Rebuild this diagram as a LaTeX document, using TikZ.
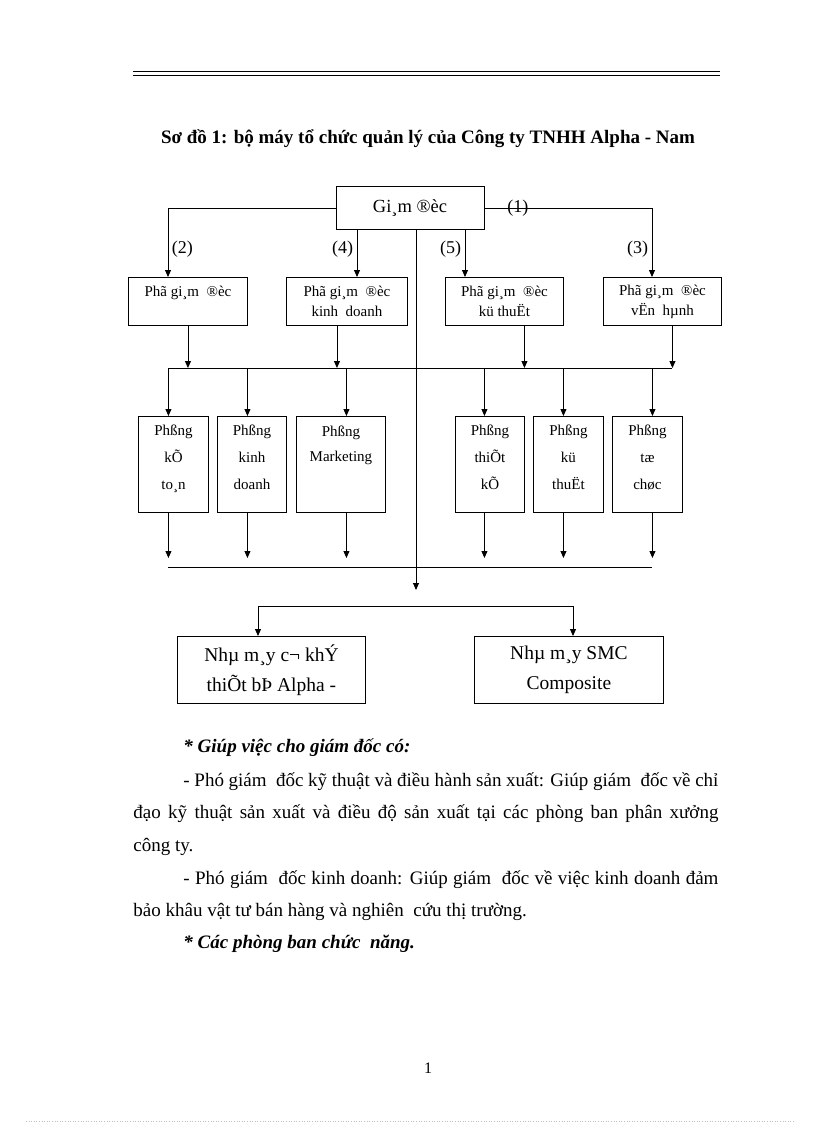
\documentclass[tikz,border=0pt]{standalone}
\usepackage{fontspec}
\setmainfont{Liberation Serif}
\usetikzlibrary{arrows.meta}

\begin{document}
\begin{tikzpicture}[x=1pt, y=-1pt, line width=0.9pt, >={Triangle[length=7pt,width=6pt]},
  main/.style = {draw, minimum width=148, minimum height=43, font=\fontsize{18.5}{20}\selectfont},
  pgd/.style = {draw, anchor=north west, minimum height=48, align=center, font=\fontsize{15}{20}\selectfont},
  phong/.style = {draw, anchor=north west, minimum height=96, text depth=14pt, align=center, font=\fontsize{15}{27}\selectfont},
  nhamay/.style = {draw, anchor=north west, minimum height=67, align=center, font=\fontsize{19.5}{30}\selectfont},
  lbl/.style = {font=\fontsize{18}{20}\selectfont},
  txt/.style = {anchor=west, inner sep=0pt, font=\fontsize{19}{22}\selectfont}]
\useasboundingbox (0,0) rectangle (816,1123);
% dong ke dau trang
\draw[line width=1pt] (133,72) -- (720,72);
\draw[line width=1pt] (133,75.5) -- (720,75.5);
\node[font=\bfseries\fontsize{19}{22}\selectfont] (t) at (428,139) {Sơ đồ 1: bộ máy tổ chức quản lý của Công ty TNHH Alpha - Nam};
% so do
\node[main] (1) at (410,208) {Gi¸m ®èc};
\node[pgd, minimum width=119] (2) at (128,277) {Phã gi¸m~ ®èc\\\phantom{x}};
\node[pgd, minimum width=121] (3) at (286,277) {Phã gi¸m~ ®èc\\kinh~ doanh};
\node[pgd, minimum width=118] (4) at (445,277) {Phã gi¸m~ ®èc\\kü thuËt};
\node[pgd, minimum width=118] (5) at (603,277) {Phã gi¸m~ ®èc\\vËn~ hµnh};
\node[phong, minimum width=70] (6) at (138,416) {Phßng\\kÕ\\to¸n};
\node[phong, minimum width=69] (7) at (217,416) {Phßng\\kinh\\doanh};
\node[phong, minimum width=89] (8) at (296,416) {Phßng\\[-2pt]Marketing\\\phantom{x}};
\node[phong, minimum width=69] (9) at (455,416) {Phßng\\thiÕt\\kÕ};
\node[phong, minimum width=70] (10) at (533,416) {Phßng\\kü\\thuËt};
\node[phong, minimum width=70] (11) at (612,416) {Phßng\\tæ\\chøc};
\node[nhamay, minimum width=188] (12) at (177,636) {Nhµ m¸y c¬ khÝ\\thiÕt bÞ Alpha -};
\node[nhamay, minimum width=189] (13) at (474,636) {Nhµ m¸y SMC\\Composite};
\coordinate (bl) at (168,368);
\coordinate (br) at (672,368);
\coordinate (dl) at (168,558);
\coordinate (ml) at (168,567);
\coordinate (mr) at (652,567);
\coordinate (c) at (416,590);
\coordinate (fl) at (258,606);
\coordinate (fr) at (573,606);
\draw[->] (1.west) -| ([xshift=40]2.north west) node[lbl, pos=0.8, right] {(2)};
\draw[->] (1.east) -| ([xshift=49]5.north west) node[lbl, pos=0.8, left] {(3)} node[lbl, pos=0.1] {(1)};
\draw[->] ([xshift=-53]1.south) -- ([xshift=-53]1.south |- 3.north) node[lbl, pos=0.4, left] {(4)};
\draw[->] ([xshift=55]1.south) -- ([xshift=55]1.south |- 4.north) node[lbl, pos=0.4, left] {(5)};
\draw[->] ([xshift=6]1.south) -- (c);
\draw (bl) -- (br);
\draw[->] (2.south) -- (2.south |- bl);
\draw[->] ([xshift=-10]3.south) -- ([xshift=-10]3.south |- bl);
\draw[->] ([xshift=20]4.south) -- ([xshift=20]4.south |- bl);
\draw[->] ([xshift=10]5.south) -- ([xshift=10]5.south |- bl);
\foreach \n/\dx in {6/-5, 7/-4.5, 8/5.5, 9/-5.5, 10/-5, 11/5} {
  \draw[->] ([xshift=\dx]\n.north |- bl) -- ([xshift=\dx]\n.north);
  \draw[->] ([xshift=\dx]\n.south) -- ([xshift=\dx]\n.south |- dl);
}
\draw (ml) -- (mr);
\draw[<->] (fl |- 12.north) -- (fl) -- (fr) -- (fr |- 13.north);
% doan van
\node[txt, font=\fontsize{19}{22}\selectfont\bfseries\itshape] (p1) at (183,748) {* Giúp việc cho giám đốc có:};
\node[txt] (p2) at (183,782) {\makebox[535pt][s]{- Phó giám~ đốc kỹ thuật và điều hành sản xuất: Giúp giám~ đốc về chỉ}};
\node[txt] (p3) at (133,814) {\makebox[585pt][s]{đạo kỹ thuật sản xuất và điều độ sản xuất tại các phòng ban phân xưởng}};
\node[txt] (p4) at (133,847) {công ty.};
\node[txt] (p5) at (183,880) {\makebox[535pt][s]{- Phó giám~ đốc kinh doanh: Giúp giám~ đốc về việc kinh doanh đảm}};
\node[txt] (p6) at (133,912) {bảo khâu vật tư bán hàng và nghiên~ cứu thị trường.};
\node[txt, font=\fontsize{19}{22}\selectfont\bfseries\itshape] (p7) at (183,944) {* Các phòng ban chức~ năng.};
\node[font=\fontsize{16}{18}\selectfont] (pg) at (428,1068) {1};
\draw[gray!50, dotted, line width=0.6pt] (26,1121) -- (795,1121);
\end{tikzpicture}
\end{document}
